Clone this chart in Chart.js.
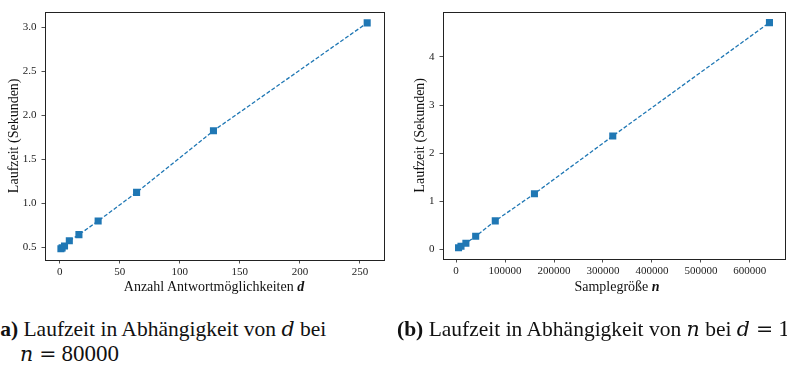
<!DOCTYPE html>
<html>
<head>
<meta charset="utf-8">
<script src="https://cdn.jsdelivr.net/npm/chart.js@4/dist/chart.umd.min.js"></script>
<style>
  html, body { margin: 0; padding: 0; background: #fff; }
  body { width: 787px; height: 366px; position: relative; overflow: hidden; font-family: "Liberation Serif", serif; color: #111; }
  canvas { position: absolute; top: 0; }
  #chartA { left: 0; }
  #chartB { left: 390px; }
  .xtitle { position: absolute; top: 279px; font-size: 14px; line-height: 16px; white-space: nowrap; transform: translateX(-50%); }
  .caption { position: absolute; top: 317px; font-size: 21.5px; line-height: 25px; white-space: nowrap; }
  .m { font-family: "DejaVu Serif", serif; font-style: italic; font-size: 20.5px; line-height: 0; }
  .eq { font-family: "DejaVu Serif", serif; font-size: 20.5px; line-height: 0; margin: 0 5px 0 6px; }
  .num { font-size: 23px; line-height: 0; }
</style>
</head>
<body>
<canvas id="chartA" width="400" height="300"></canvas>
<canvas id="chartB" width="400" height="300"></canvas>

<div class="xtitle" style="left:214px">Anzahl Antwortmöglichkeiten <b><i>d</i></b></div>
<div class="xtitle" style="left:617px">Samplegröße <b><i>n</i></b></div>

<div class="caption" style="left:-7px"><b>(a)</b> Laufzeit in Abhängigkeit von <span class="m">d</span> bei<br><span style="padding-left:27px"><span class="m">n</span><span class="eq">=</span><span class="num">80000</span></span></div>
<div class="caption" style="left:397px"><b>(b)</b> Laufzeit in Abhängigkeit von <span class="m">n</span> bei <span class="m">d</span><span class="eq">=</span><span class="num">1</span></div>

<script>
const dValues = [1, 2, 4, 8, 16, 32, 64, 128, 256];
const timeByD = [0.485, 0.495, 0.515, 0.575, 0.645, 0.80, 1.125, 1.825, 3.05];

const nValues = [5000, 10000, 20000, 40000, 80000, 160000, 320000, 640000];
const timeByN = [0.03, 0.06, 0.125, 0.27, 0.59, 1.155, 2.355, 4.715];

// Achsenbeschriftungen
const dTicks = [0, 50, 100, 150, 200, 250];
const timeTicksA = [0.5, 1.0, 1.5, 2.0, 2.5, 3.0];
const nTicks = [0, 100000, 200000, 300000, 400000, 500000, 600000];
const timeTicksB = [0, 1, 2, 3, 4];

const yTitle = 'Laufzeit (Sekunden)';
const blue = '#1f77b4';

Chart.defaults.color = '#222';
Chart.defaults.font.family = '"Liberation Serif", serif';

// draws the full axes box like matplotlib spines
const frame = {
    id: 'frame',
    afterDraw(chart) {
        const a = chart.chartArea;
        const ctx = chart.ctx;
        ctx.save();
        ctx.strokeStyle = '#222';
        ctx.lineWidth = 1;
        ctx.strokeRect(Math.round(a.left) + 0.5, Math.round(a.top) + 0.5,
            Math.round(a.right - a.left), Math.round(a.bottom - a.top));
        ctx.restore();
    }
};

function tickGrid() {
    return { display: true, drawOnChartArea: false, drawTicks: true, tickLength: 3.5, color: '#222', lineWidth: 0.8 };
}

function makeChart(id, xs, ys, opts) {
    const ctx = document.getElementById(id).getContext('2d');
    const points = xs.map((x, i) => ({ x: x, y: ys[i] }));

    return new Chart(ctx, {
        type: 'line',
        data: {
            datasets: [{
                data: points,
                borderColor: blue,
                backgroundColor: blue,
                borderWidth: 1.3,
                borderDash: [4, 2],
                pointStyle: 'rect',
                pointRadius: 5,
                pointBorderWidth: 0,
                pointBackgroundColor: blue,
                tension: 0
            }]
        },
        options: {
            responsive: false,
            animation: false,
            layout: { padding: opts.padding },
            plugins: {
                legend: { display: false },
                tooltip: { enabled: false }
            },
            scales: {
                x: {
                    type: 'linear',
                    min: opts.xMin,
                    max: opts.xMax,
                    border: { display: false },
                    grid: tickGrid(),
                    afterBuildTicks: scale => { scale.ticks = opts.xTicks.map(v => ({ value: v })); },
                    ticks: {
                        autoSkip: false,
                        maxRotation: 0,
                        padding: 2,
                        font: { size: 11 },
                        callback: v => String(v)
                    },
                    afterFit: scale => { scale.height = opts.xHeight; }
                },
                y: {
                    type: 'linear',
                    min: opts.yMin,
                    max: opts.yMax,
                    border: { display: false },
                    grid: tickGrid(),
                    afterBuildTicks: scale => { scale.ticks = opts.yTicks.map(v => ({ value: v })); },
                    ticks: {
                        autoSkip: false,
                        padding: 5,
                        font: { size: 11 },
                        callback: opts.yLabel
                    },
                    title: {
                        display: true,
                        text: yTitle,
                        color: '#111',
                        font: { size: 14 },
                        padding: { top: opts.titlePad, bottom: 0 }
                    },
                    afterFit: scale => { scale.width = opts.yWidth; }
                }
            }
        },
        plugins: [frame]
    });
}

// (a) Laufzeit abhängig von d
makeChart('chartA', dValues, timeByD, {
    padding: { left: 0, right: 16, top: 8, bottom: 0 },
    xMin: -12.25, xMax: 270, xTicks: dTicks, xHeight: 40,
    yMin: 0.357, yMax: 3.178, yTicks: timeTicksA, yWidth: 45,
    yLabel: v => v.toFixed(1),
    titlePad: 5.6
});

// (b) Laufzeit abhängig von n
makeChart('chartB', nValues, timeByN, {
    padding: { left: 0, right: 1, top: 2, bottom: 0 },
    xMin: -26750, xMax: 671750, xTicks: nTicks, xHeight: 41,
    yMin: -0.204, yMax: 4.944, yTicks: timeTicksB, yWidth: 53,
    yLabel: v => String(v),
    titlePad: 21.6
});
</script>
</body>
</html>
